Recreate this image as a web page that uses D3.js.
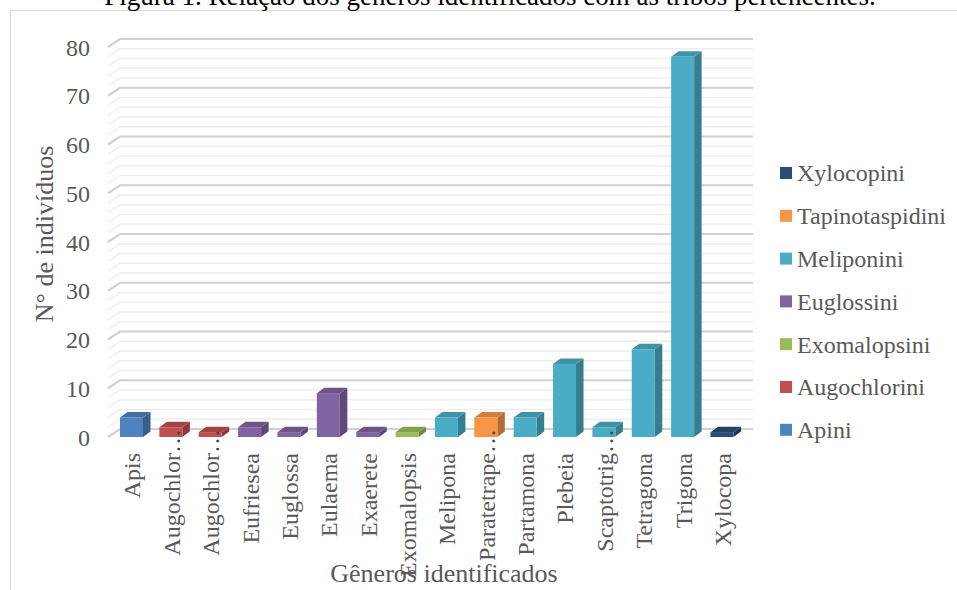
<!DOCTYPE html>
<html>
<head>
<meta charset="utf-8">
<script src="https://cdn.jsdelivr.net/npm/d3@7"></script>
<style>
  html, body { margin: 0; padding: 0; background: #fff; }
  svg { display: block; }
  svg text { font-family: 'Liberation Serif', 'DejaVu Serif', serif; }
</style>
</head>
<body>
<svg id="chart" width="957" height="590"></svg>
<script>
// Genera and individual counts ("…" marks a shortened genus name)
const genera = ["Apis", "Augochlor…", "Augochlor…", "Eufriesea", "Euglossa", "Eulaema", "Exaerete",
  "Exomalopsis", "Melipona", "Paratetrape…", "Partamona", "Plebeia", "Scaptotrig…", "Tetragona",
  "Trigona", "Xylocopa"];
const counts = [4, 2, 1, 2, 1, 9, 1, 1, 4, 4, 4, 15, 2, 18, 78, 1];
const generaTribe = ["Apini", "Augochlorini", "Augochlorini", "Euglossini", "Euglossini", "Euglossini",
  "Euglossini", "Exomalopsini", "Meliponini", "Tapinotaspidini", "Meliponini", "Meliponini",
  "Meliponini", "Meliponini", "Meliponini", "Xylocopini"];

// Tribes, legend order (top to bottom)
const tribes = ["Xylocopini", "Tapinotaspidini", "Meliponini", "Euglossini", "Exomalopsini", "Augochlorini", "Apini"];
const tribeColors = ["#2a4d78", "#f79646", "#4bacc6", "#8064a2", "#9bbb59", "#c0504d", "#4f81bd"];

const yTicks = [0, 10, 20, 30, 40, 50, 60, 70, 80];
const minorStep = 2;

const titleText = "Figura 1.  Relação dos gêneros identificados com as tribos pertencentes.";
const xTitle = "Gêneros identificados";
const yTitle = "N° de indivíduos";

const FONT = "'Liberation Serif', 'DejaVu Serif', serif";
const svg = d3.select("#chart");
const grey = "#595959";

// outer chart frame
svg.append("rect").attr("x", 10.5).attr("y", 10.5).attr("width", 980).attr("height", 620)
  .attr("fill", "#fff").attr("stroke", "#d9d9d9").attr("stroke-width", 1);

// figure caption
svg.append("text").attr("x", 490).attr("y", 5).attr("text-anchor", "middle")
  .style("font-family", FONT).attr("font-size", 27).attr("fill", "#000").text(titleText);

const y = d3.scaleLinear().domain([0, 80]).range([437, 47]);
const x = d3.scalePoint().domain(d3.range(genera.length)).range([131.5, 722]);
const color = d3.scaleOrdinal().domain(tribes).range(tribeColors);

// depth of the 3D wall and of the bars
const wallDx = 12, wallDy = -8;
const barDx = 7.5, barDy = -5.5;
const wallLeft = 108, wallRight = 753;
const barW = 23;

// gridlines (minor every 2, major every 10)
const gridVals = d3.range(0, 80 + 0.001, minorStep);
const grid = svg.append("g");
gridVals.forEach(v => {
  const major = v % 10 === 0;
  const yy = y(v);
  grid.append("path")
    .attr("d", `M${wallLeft},${yy} L${wallLeft + wallDx},${yy + wallDy} L${wallRight},${yy + wallDy}`)
    .attr("fill", "none")
    .attr("stroke", major ? "#d0d0d0" : "#eeeeee")
    .attr("stroke-width", major ? 2.2 : 1.5);
});

// y axis tick labels
const yAxis = d3.axisLeft(y).tickValues(yTicks).tickSize(0).tickPadding(0);
const yg = svg.append("g").attr("transform", "translate(90,0)").call(yAxis).attr("font-family", null);
yg.select(".domain").remove();
yg.selectAll("text").style("font-family", FONT).attr("font-size", 24)
  .attr("fill", grey).attr("dy", "0.34em");

// 3D bars
const bars = svg.append("g");
counts.forEach((c, i) => {
  const base = d3.color(color(generaTribe[i]));
  const x0 = x(i) - barW / 2, x1 = x0 + barW;
  const yTop = y(c), yBot = y(0);
  // right side
  bars.append("path")
    .attr("d", `M${x1},${yTop} L${x1 + barDx},${yTop + barDy} L${x1 + barDx},${yBot + barDy} L${x1},${yBot} Z`)
    .attr("fill", base.darker(0.9));
  // top
  bars.append("path")
    .attr("d", `M${x0},${yTop} L${x0 + barDx},${yTop + barDy} L${x1 + barDx},${yTop + barDy} L${x1},${yTop} Z`)
    .attr("fill", base.darker(0.45));
  // front
  bars.append("rect").attr("x", x0).attr("y", yTop).attr("width", barW).attr("height", yBot - yTop)
    .attr("fill", base);
});

// x axis category labels: the name ends at the label line, a trailing "…" runs on past it
const labelTop = 453;
const xAxis = d3.axisBottom(x).tickFormat("").tickSize(0).tickPadding(0);
const xg = svg.append("g").attr("transform", `translate(0,${labelTop})`).call(xAxis);
xg.select(".domain").remove();
xg.selectAll(".tick").each(function(i) {
  const full = genera[i];
  const cut = full.endsWith("…");
  const name = cut ? full.slice(0, -1) : full;
  const t = d3.select(this).append("text")
    .style("font-family", FONT).attr("font-size", 24).attr("fill", grey)
    .attr("transform", "rotate(-90)").attr("text-anchor", "start")
    .attr("y", 0).attr("dy", "0.35em");
  const main = t.append("tspan").text(name);
  const len = main.node().getComputedTextLength();
  t.attr("x", -len);
  if (cut) t.append("tspan").attr("fill", "#404040").text("…");
});

// axis titles
svg.append("text").attr("x", 444).attr("y", 582).attr("text-anchor", "middle")
  .style("font-family", FONT).attr("font-size", 26).attr("fill", grey).text(xTitle);
svg.append("text").attr("transform", "translate(53,234) rotate(-90)").attr("text-anchor", "middle")
  .style("font-family", FONT).attr("font-size", 26).attr("fill", grey).text(yTitle);

// legend
const legend = svg.append("g").selectAll("g").data(tribes).join("g")
  .attr("transform", (d, i) => `translate(780,${173 + i * 42.8})`);
legend.append("rect").attr("x", 0).attr("y", -6).attr("width", 12).attr("height", 12)
  .attr("fill", d => color(d));
legend.append("text").attr("x", 17).attr("y", 0).attr("dy", "0.35em")
  .style("font-family", FONT).attr("font-size", 24).attr("fill", grey).text(d => d);
</script>
</body>
</html>
